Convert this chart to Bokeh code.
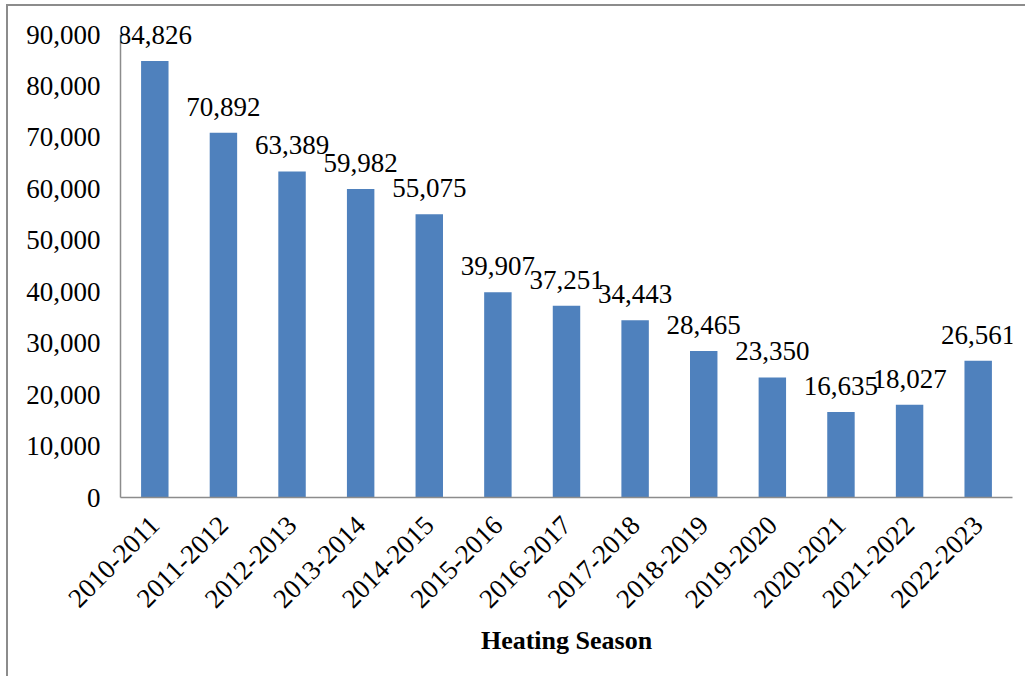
import math
from bokeh.plotting import figure
from bokeh.models import ColumnDataSource, NumeralTickFormatter, Range1d, LabelSet
from bokeh.embed import file_html
from bokeh.resources import INLINE

seasons = ["2010-2011", "2011-2012", "2012-2013", "2013-2014", "2014-2015",
           "2015-2016", "2016-2017", "2017-2018", "2018-2019", "2019-2020",
           "2020-2021", "2021-2022", "2022-2023"]
counts = [84826, 70892, 63389, 59982, 55075, 39907, 37251, 34443,
          28465, 23350, 16635, 18027, 26561]
labels = [f"{v:,}" for v in counts]

source = ColumnDataSource(data=dict(season=seasons, count=counts, label=labels))

FONT = "Liberation Serif"
Y_MAX = 90000
# frame is 484px tall; axis itself ends at Y_MAX (463px), leaving headroom for labels
y_end = Y_MAX * 484 / 463

p = figure(x_range=seasons, y_range=Range1d(0, y_end), width=1019, height=672,
           output_backend="svg", toolbar_location=None,
           min_border_left=112, min_border_right=15,
           min_border_top=7, min_border_bottom=181)
p.styles = {"border-left": "2px solid #8c8c8c", "border-top": "2px solid #8c8c8c",
            "margin-left": "6px", "margin-top": "4px"}

p.vbar(x="season", top="count", width=0.4, source=source,
       fill_color="#4F81BD", line_color=None)

value_labels = LabelSet(x="season", y="count", text="label", source=source,
                        text_align="center", text_baseline="bottom", y_offset=17,
                        text_font=FONT, text_font_size="27px", text_color="#000000")
p.add_layout(value_labels)

p.outline_line_color = None
p.xgrid.grid_line_color = None
p.ygrid.grid_line_color = None

for ax in (p.xaxis[0], p.yaxis[0]):
    ax.axis_line_color = "#8c8c8c"
    ax.axis_line_width = 1.5
    ax.major_tick_line_color = None
    ax.minor_tick_line_color = None
    ax.major_label_text_font = FONT
    ax.major_label_text_font_size = "27px"
    ax.major_label_text_color = "#000000"

p.yaxis[0].ticker.desired_num_ticks = 10
p.yaxis[0].bounds = (0, Y_MAX)
p.yaxis[0].formatter = NumeralTickFormatter(format="0,0")
p.yaxis[0].major_label_standoff = 14

p.xaxis[0].major_label_orientation = math.pi / 4
p.xaxis[0].major_label_standoff = 17
p.xaxis[0].axis_label = "Heating Season"
p.xaxis[0].axis_label_text_font = FONT
p.xaxis[0].axis_label_text_font_size = "26px"
p.xaxis[0].axis_label_text_font_style = "bold"
p.xaxis[0].axis_label_text_color = "#000000"
p.xaxis[0].axis_label_standoff = 7

open("out.html", "w").write(file_html(p, INLINE))
